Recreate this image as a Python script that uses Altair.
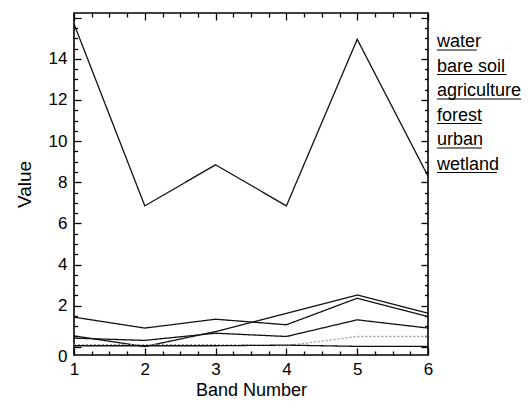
import altair as alt
import pandas as pd

# ---- data ----
bands = [1, 2, 3, 4, 5, 6]
series_names = ["water", "bare soil", "agriculture", "forest", "urban", "wetland"]
water = [15.7, 6.85, 8.85, 6.85, 14.95, 8.3]
bare_soil = [1.44, 0.91, 1.34, 1.07, 2.36, 1.47]
agriculture = [0.53, 0.01, 0.74, 1.62, 2.52, 1.63]
forest = [0.42, 0.31, 0.66, 0.5, 1.31, 0.91]
urban = [0.1, 0.1, 0.1, 0.05, 0.5, 0.5]
wetland = [0.05, 0.05, 0.05, 0.08, 0.02, 0.02]

x_labels = [1, 2, 3, 4, 5, 6]
y_labels = [0, 2, 4, 6, 8, 10, 12, 14]
x_ticks = [1 + 0.25 * i for i in range(21)]
y_ticks = [0.5 * i for i in range(33)]

rows = []
for name, vals in zip(series_names, [water, bare_soil, agriculture, forest, urban, wetland]):
    for b, v in zip(bands, vals):
        rows.append({"band": b, "value": v, "series": name})
df = pd.DataFrame(rows)
leg_df = pd.DataFrame({"label": series_names})

W, H = 354, 342
FONT = "Liberation Sans"
xs = alt.Scale(domain=[1, 6], nice=False, zero=False)
ys = alt.Scale(domain=[-0.4, 16.23], nice=False, zero=False)

colors = ["#111111", "#111111", "#111111", "#111111", "#9a9a9a", "#111111"]
dashes = [[1, 0], [1, 0], [1, 0], [1, 0], [2, 2], [1, 0]]

lines = alt.Chart(df).mark_line(strokeWidth=1.3).encode(
    x=alt.X("band:Q", scale=xs, axis=alt.Axis(
        orient="bottom", values=x_labels, ticks=False, tickSize=0, domain=False, grid=False,
        labelPadding=6, labelFontSize=17, labelFont=FONT, labelColor="black",
        labelFlush=False, labelOverlap=False, format="d",
        title="Band Number", titlePadding=4, titleFontSize=18, titleFont=FONT,
        titleFontWeight="normal", titleColor="black")),
    y=alt.Y("value:Q", scale=ys, axis=alt.Axis(
        orient="left", values=y_labels, ticks=False, tickSize=0, domain=False, grid=False,
        labelPadding=7, labelFontSize=17, labelFont=FONT, labelColor="black",
        labelFlush=False, labelOverlap=False, format="d",
        labelOffset={"condition": {"test": "datum.value === 0", "value": 10}, "value": 0},
        title="Value", titlePadding=14, titleFontSize=19, titleFont=FONT,
        titleFontWeight="normal", titleColor="black")),
    color=alt.Color("series:N", scale=alt.Scale(domain=series_names, range=colors), legend=None),
    strokeDash=alt.StrokeDash("series:N", scale=alt.Scale(domain=series_names, range=dashes), legend=None),
)


def tick_axis(orient, values, test, major, minor, off):
    return alt.Axis(orient=orient, offset=off, values=values, labels=False, domain=False,
                    grid=False, ticks=True, tickColor="black", tickWidth=1.3,
                    tickSize={"condition": {"test": test, "value": major}, "value": minor},
                    title="")


ticks_a = alt.Chart(df).mark_point(opacity=0).encode(
    x=alt.X("band:Q", scale=xs, axis=tick_axis("top", x_ticks, "datum.value % 1 === 0", 7, 4, -H)),
    y=alt.Y("value:Q", scale=ys, axis=tick_axis("right", y_ticks, "datum.value % 2 === 0", 7, 3.5, -W)),
)
ticks_b = alt.Chart(df).mark_point(opacity=0).encode(
    x=alt.X("band:Q", scale=xs, axis=tick_axis("bottom", x_ticks, "datum.value % 1 === 0", 7, 4, -H)),
    y=alt.Y("value:Q", scale=ys, axis=tick_axis("left", y_ticks, "datum.value % 2 === 0", 7, 3.5, -W)),
)

main = alt.layer(lines, ticks_a, ticks_b).resolve_axis(x="independent", y="independent")

leg_y = alt.Scale(type="point", domain=series_names, range=[34, 156.5], padding=0)
leg_text = alt.Chart(leg_df).mark_text(
    align="left", baseline="alphabetic", fontSize=18, font=FONT, color="black"
).encode(
    x=alt.value(W + 9),
    y=alt.Y("label:N", scale=leg_y, axis=None),
    text="label:N",
)
# underline length estimated from the label's narrow / wide characters
leg_rule = alt.Chart(leg_df).transform_calculate(
    narrow="length(replace(datum.label, regexp('[^iltfr ]', 'g'), ''))",
).transform_calculate(
    u0="0", u1="(length(datum.label) - datum.narrow) * 10 + datum.narrow * 4.9"
).mark_rule(color="black", strokeWidth=1.2, yOffset=3).encode(
    x=alt.X("u0:Q", scale=alt.Scale(domain=[0, 100], range=[W + 9, W + 109]), axis=None),
    x2="u1:Q",
    y=alt.Y("label:N", scale=leg_y, axis=None),
)

chart = alt.layer(main, leg_text, leg_rule).resolve_scale(
    x="independent", y="independent"
).properties(
    width=W, height=H,
    padding={"left": 66, "top": 5, "right": 93, "bottom": 46},
    autosize=alt.AutoSizeParams(type="none"),
).configure_view(stroke="black", strokeWidth=1.6)

chart.save("out.html", embed_options={"renderer": "svg", "actions": False})
